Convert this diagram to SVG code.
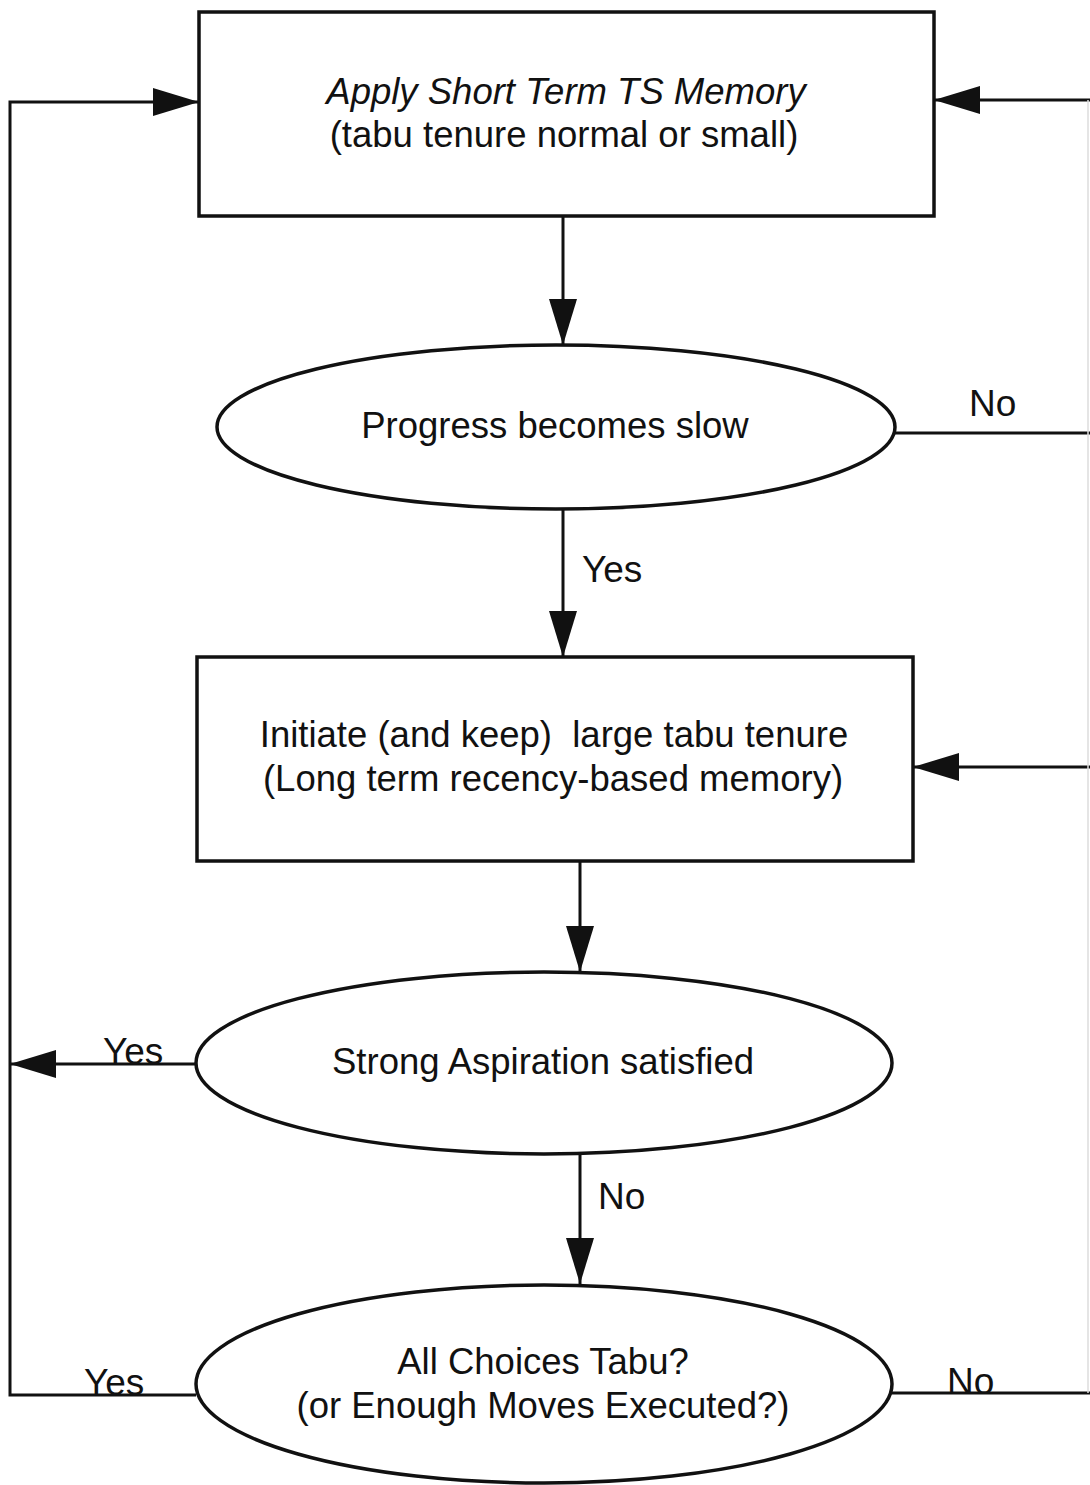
<svg xmlns="http://www.w3.org/2000/svg" width="1090" height="1485" viewBox="0 0 1090 1485">
<style>
.n{fill:#fff;stroke:#111;stroke-width:3.5}
.c{fill:none;stroke:#111;stroke-width:3}
.t{font-family:"Liberation Sans",Arial,sans-serif;font-size:36.5px;fill:#111;text-anchor:middle;white-space:pre}
.l{font-family:"Liberation Sans",Arial,sans-serif;font-size:37px;fill:#111}
</style>
<defs>
<marker id="ah" viewBox="0 0 46 28" refX="46" refY="14" markerWidth="46" markerHeight="28" markerUnits="userSpaceOnUse" orient="auto">
<path d="M0,0 L46,14 L0,28 Z" fill="#111"/>
</marker>
</defs>
<rect width="1090" height="1485" fill="#fff"/>
<g id="connectors">
<path class="c" d="M563,216 V345" marker-end="url(#ah)"/>
<path class="c" d="M563,510 V657" marker-end="url(#ah)"/>
<path class="c" d="M580,861 V972" marker-end="url(#ah)"/>
<path class="c" d="M580,1155 V1284" marker-end="url(#ah)"/>
<path class="c" d="M196,1064 H10" marker-end="url(#ah)"/>
<path class="c" d="M196,1395 H10 V102 H199" marker-end="url(#ah)"/>
<path class="c" d="M895,433 H1090"/>
<path class="c" d="M892,1393 H1090"/>
<path class="c" d="M1090,100 H934" marker-end="url(#ah)"/>
<path class="c" d="M1090,767 H913" marker-end="url(#ah)"/>
<path d="M1088,100 V1393" fill="none" stroke="#ddd" stroke-width="1.5"/>
<text class="l" x="969" y="416">No</text>
<text class="l" x="582" y="582">Yes</text>
<text class="l" x="103" y="1064">Yes</text>
<text class="l" x="598" y="1209">No</text>
<text class="l" x="84" y="1395">Yes</text>
<text class="l" x="947" y="1394">No</text>
</g>
<g id="box1">
<rect class="n" x="199" y="12" width="735" height="204"/>
<text class="t" x="566" y="104" font-style="italic">Apply Short Term TS Memory</text>
<text class="t" x="564" y="147">(tabu tenure normal or small)</text>
</g>
<g id="dec1">
<ellipse class="n" cx="556" cy="427" rx="339" ry="82"/>
<text class="t" x="555" y="438">Progress becomes slow</text>
</g>
<g id="box2">
<rect class="n" x="197" y="657" width="716" height="204"/>
<text class="t" x="554" y="747">Initiate (and keep)  large tabu tenure</text>
<text class="t" x="553" y="791">(Long term recency-based memory)</text>
</g>
<g id="dec2">
<ellipse class="n" cx="544" cy="1063" rx="348" ry="91"/>
<text class="t" x="543" y="1074">Strong Aspiration satisfied</text>
</g>
<g id="dec3">
<ellipse class="n" cx="544" cy="1384" rx="348" ry="99"/>
<text class="t" x="543" y="1374">All Choices Tabu?</text>
<text class="t" x="543" y="1418">(or Enough Moves Executed?)</text>
</g>
</svg>
